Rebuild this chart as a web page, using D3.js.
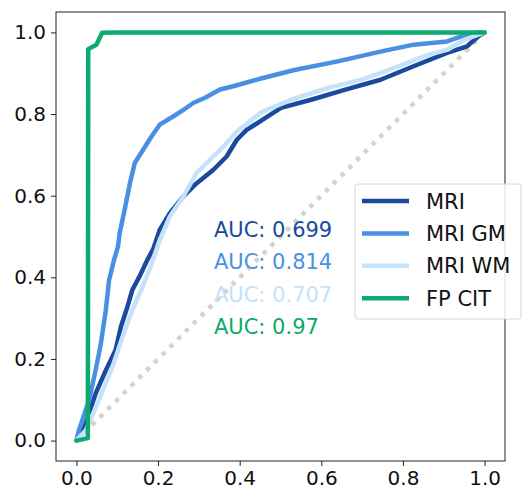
<!DOCTYPE html>
<html>
<head>
<meta charset="utf-8">
<script src="https://cdn.jsdelivr.net/npm/d3@7"></script>
<style>
  body { margin: 0; background: #fff; }
  text { font-family: "DejaVu Sans", sans-serif; }
</style>
</head>
<body>
<svg id="chart" width="522" height="492"></svg>
<script>
// ROC curves: [false positive rate, true positive rate]
var mriPoints = [[0,0],[0.01,0.015],[0.023,0.042],[0.047,0.115],[0.072,0.172],[0.096,0.222],[0.109,0.279],
  [0.125,0.328],[0.137,0.369],[0.154,0.401],[0.174,0.443],[0.188,0.469],[0.204,0.516],[0.229,0.557],
  [0.262,0.598],[0.294,0.63],[0.335,0.663],[0.368,0.696],[0.393,0.737],[0.417,0.761],[0.45,0.782],
  [0.501,0.815],[0.575,0.835],[0.657,0.859],[0.745,0.884],[0.826,0.917],[0.908,0.95],[0.957,0.966],
  [0.99,0.995],[1,1]];
var mriGmPoints = [[0,0],[0.006,0.025],[0.031,0.099],[0.047,0.172],[0.06,0.238],[0.072,0.32],[0.08,0.393],
  [0.092,0.442],[0.102,0.476],[0.106,0.508],[0.118,0.565],[0.131,0.63],[0.143,0.68],[0.163,0.712],
  [0.184,0.745],[0.204,0.774],[0.237,0.794],[0.262,0.81],[0.286,0.827],[0.315,0.84],[0.352,0.86],
  [0.384,0.868],[0.452,0.887],[0.534,0.908],[0.64,0.929],[0.745,0.953],[0.826,0.97],[0.908,0.978],
  [0.957,0.995],[0.99,1],[1,1]];
var mriWmPoints = [[0,0],[0.023,0.025],[0.055,0.099],[0.088,0.18],[0.113,0.254],[0.137,0.32],[0.162,0.377],
  [0.182,0.426],[0.204,0.491],[0.229,0.549],[0.262,0.598],[0.294,0.655],[0.327,0.688],[0.36,0.72],
  [0.393,0.757],[0.425,0.782],[0.452,0.804],[0.526,0.835],[0.616,0.864],[0.698,0.884],[0.779,0.913],
  [0.861,0.945],[0.91,0.958],[0.951,0.982],[1,1]];
var fpCitPoints = [[0,0],[0.028,0.006],[0.029,0.959],[0.049,0.97],[0.063,0.999],[0.094,1],[1,1]];

var seriesNames = ["MRI", "MRI GM", "MRI WM", "FP CIT"];
var seriesColors = ["#1a4a9e", "#4a90e2", "#c6e2fa", "#0caa6c"];
var seriesAuc = ["0.699", "0.814", "0.707", "0.97"];
var chancePoints = [[0,0],[1,1]];
var tickValues = [0, 0.2, 0.4, 0.6, 0.8, 1.0];

var svg = d3.select("#chart");
var margin = {left: 56, top: 12, right: 17, bottom: 31};
var width = 522 - margin.left - margin.right;
var height = 492 - margin.top - margin.bottom;

var x = d3.scaleLinear().domain([-0.05, 1.05]).range([0, width]);
var y = d3.scaleLinear().domain([-0.05, 1.05]).range([height, 0]);

var g = svg.append("g").attr("transform", "translate(" + margin.left + "," + margin.top + ")");

var line = d3.line().x(function(d){return x(d[0]);}).y(function(d){return y(d[1]);});

// chance diagonal
g.append("path")
  .datum(chancePoints)
  .attr("d", line)
  .attr("fill", "none")
  .attr("stroke", "#d3d3d3")
  .attr("stroke-width", 4.5)
  .attr("stroke-dasharray", "4.5,6.5");

var allSeries = [mriPoints, mriGmPoints, mriWmPoints, fpCitPoints];
g.selectAll("path.roc").data(allSeries).enter()
  .append("path")
  .attr("class", "roc")
  .attr("d", line)
  .attr("fill", "none")
  .attr("stroke", function(d,i){return seriesColors[i];})
  .attr("stroke-width", 4.5)
  .attr("stroke-linejoin", "round")
  .attr("stroke-linecap", "round");

// AUC annotations
g.selectAll("text.auc").data(seriesAuc).enter()
  .append("text")
  .attr("class", "auc")
  .attr("x", x(0.337))
  .attr("y", function(d,i){return y(0.5 - 0.08*i);})
  .attr("fill", function(d,i){return seriesColors[i];})
  .style("font-size", "21px")
  .text(function(d){return "AUC: " + d;});

// frame
g.append("rect")
  .attr("width", width).attr("height", height)
  .attr("fill", "none").attr("stroke", "#222").attr("stroke-width", 1);

var xAxis = g.append("g").attr("transform", "translate(0," + height + ")")
  .call(d3.axisBottom(x).tickValues(tickValues).tickFormat(d3.format(".1f")).tickSize(5).tickPadding(5));
var yAxis = g.append("g")
  .call(d3.axisLeft(y).tickValues(tickValues).tickFormat(d3.format(".1f")).tickSize(5).tickPadding(5));
[xAxis, yAxis].forEach(function(a){
  a.select(".domain").remove();
  a.selectAll("line").attr("stroke", "#222");
  a.selectAll("text").attr("fill", "#111").style("font-size", "20px").style("font-family", "DejaVu Sans");
});

// legend
var legend = svg.append("g").attr("transform", "translate(355,184)");
legend.append("rect")
  .attr("width", 166).attr("height", 135).attr("rx", 3)
  .attr("fill", "#fff").attr("fill-opacity", 0.85)
  .attr("stroke", "#d6d6d6").attr("stroke-width", 1);
var rows = legend.selectAll("g.row").data(seriesNames).enter()
  .append("g").attr("class", "row")
  .attr("transform", function(d,i){return "translate(0," + (17 + 32.4*i) + ")";});
rows.append("line")
  .attr("x1", 7).attr("x2", 54)
  .attr("stroke", function(d,i){return seriesColors[i];})
  .attr("stroke-width", 4.5);
rows.append("text")
  .attr("x", 71).attr("dy", "0.36em")
  .attr("fill", "#111")
  .style("font-size", "21px")
  .text(function(d){return d;});
</script>
</body>
</html>
